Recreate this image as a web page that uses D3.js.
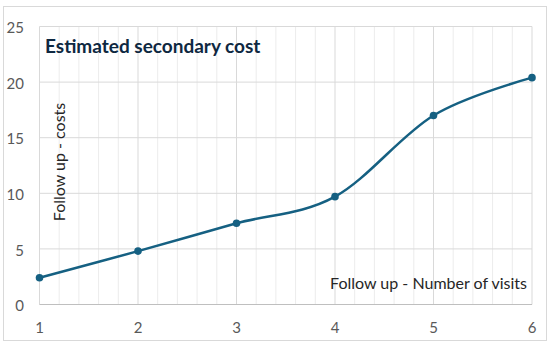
<!DOCTYPE html>
<html><head><meta charset="utf-8">
<script src="https://cdn.jsdelivr.net/npm/d3@7"></script>
<style>body{margin:0;background:#fff}svg{display:block;font-family:Lato,"Noto Sans",sans-serif}</style>
</head><body>
<script>
const visits = [1, 2, 3, 4, 5, 6];
const costs = [2.4, 4.8, 7.3, 9.7, 17.0, 20.4];
const yTicks = [0, 5, 10, 15, 20, 25];
const xTicks = [1, 2, 3, 4, 5, 6];
const title = "Estimated secondary cost";
const yTitle = "Follow up - costs";
const xTitle = "Follow up - Number of visits";

const W = 550, H = 346;
const m = {l: 39.5, r: 18, t: 26.5, b: 41.5};
const svg = d3.select("body").append("svg").attr("width", W).attr("height", H);
svg.append("rect").attr("x", 3.5).attr("y", 6.5).attr("width", 543).attr("height", 334)
  .attr("fill", "#fff").attr("stroke", "#d9d9d9");

const x = d3.scaleLinear().domain([1, 6]).range([m.l, W - m.r]);
const y = d3.scaleLinear().domain([0, 25]).range([H - m.b, m.t]);

// minor vertical grid
const minor = d3.range(1, 6.001, 0.2).map(v => Math.round(v * 10) / 10).filter(v => !Number.isInteger(v));
svg.append("g").selectAll("line").data(minor).join("line")
  .attr("x1", d => x(d)).attr("x2", d => x(d)).attr("y1", y(0)).attr("y2", y(25))
  .attr("stroke", "#ececec").attr("stroke-width", 1);
// major vertical grid
svg.append("g").selectAll("line").data(xTicks).join("line")
  .attr("x1", d => x(d)).attr("x2", d => x(d)).attr("y1", y(0)).attr("y2", y(25))
  .attr("stroke", "#d9d9d9").attr("stroke-width", 1);
// horizontal grid
svg.append("g").selectAll("line").data(yTicks.slice(1)).join("line")
  .attr("x1", x(1)).attr("x2", x(6)).attr("y1", d => y(d)).attr("y2", d => y(d))
  .attr("stroke", "#d9d9d9").attr("stroke-width", 1);
// x axis line
svg.append("line").attr("x1", x(1)).attr("x2", x(6)).attr("y1", y(0)).attr("y2", y(0))
  .attr("stroke", "#bfbfbf").attr("stroke-width", 1);

// tick labels
svg.append("g").selectAll("text").data(yTicks).join("text")
  .attr("x", 24).attr("y", d => y(d) + 1.5).attr("dy", "0.35em").attr("text-anchor", "end")
  .attr("font-size", 15).attr("fill", "#595959").text(d => d);
svg.append("g").selectAll("text").data(xTicks).join("text")
  .attr("x", d => x(d)).attr("y", 333).attr("text-anchor", "middle")
  .attr("font-size", 15).attr("fill", "#595959").text(d => d);

// line
const line = d3.line().x((d, i) => x(visits[i])).y(d => y(d)).curve(d3.curveCardinal.tension(0));
svg.append("path").datum(costs).attr("d", line).attr("fill", "none")
  .attr("stroke", "#156082").attr("stroke-width", 2.5);
svg.append("g").selectAll("circle").data(costs).join("circle")
  .attr("cx", (d, i) => x(visits[i])).attr("cy", d => y(d)).attr("r", 3.8).attr("fill", "#156082");

// titles
svg.append("text").attr("x", 45).attr("y", 52.5).attr("font-size", 19).attr("font-weight", "bold")
  .attr("fill", "#0e2841").text(title);
svg.append("text").attr("transform", "translate(64.5,162) rotate(-90)").attr("text-anchor", "middle")
  .attr("font-size", 16).attr("fill", "#262626").text(yTitle);
svg.append("text").attr("x", 527).attr("y", 289).attr("text-anchor", "end")
  .attr("font-size", 16).attr("fill", "#262626").text(xTitle);
</script>
</body></html>
